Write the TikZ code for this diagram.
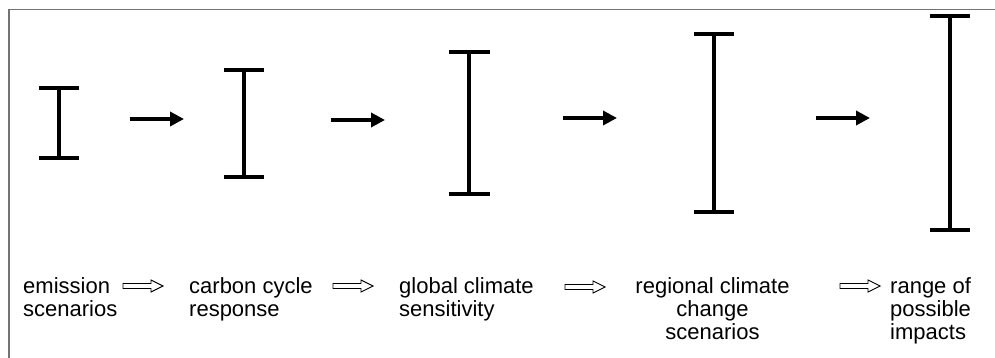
\documentclass[tikz,border=0pt]{standalone}
\usepackage{fontspec}
\setmainfont{Liberation Sans}
\usetikzlibrary{arrows.meta}
\begin{document}
\begin{tikzpicture}[x=1pt,y=-1pt,
  bar/.style={line width=3.3pt},
  flowarrow/.style={line width=3.6pt,-{Triangle[length=14pt,width=14pt]}},
  label/.style={inner sep=0pt,font=\fontsize{22}{23}\selectfont},
  harrow/.pic={\draw[line width=0.9pt,fill=white] (0,-2.5) -- (28,-2.5) -- (28,-6) -- (40,0) -- (28,6) -- (28,2.5) -- (0,2.5) -- cycle;}]
\useasboundingbox (0,0) rectangle (995,358);
\draw[line width=1.3pt,color=black!55] (9,360) -- (9,9.3) -- (997,9.3);
% error bars
\foreach \n/\x/\t/\b/\w in {1/59/88/158/20, 2/244/70/177/20, 3/469/52/194/20.5, 4/714/34/212/20, 5/950/16/230/20}{
  \coordinate (t\n) at (\x,\t);
  \coordinate (b\n) at (\x,\b);
  \draw[bar] (t\n) -- (b\n);
  \draw[bar] ([xshift=-\w pt]t\n) -- ([xshift=\w pt]t\n);
  \draw[bar] ([xshift=-\w pt]b\n) -- ([xshift=\w pt]b\n);
}
% black arrows
\coordinate (a1s) at (130,119); \coordinate (a1e) at (184,119);
\coordinate (a2s) at (331,120); \coordinate (a2e) at (385,120);
\coordinate (a3s) at (563,118); \coordinate (a3e) at (617,118);
\coordinate (a4s) at (816,118); \coordinate (a4e) at (870,118);
\draw[flowarrow] (a1s) -- (a1e);
\draw[flowarrow] (a2s) -- (a2e);
\draw[flowarrow] (a3s) -- (a3e);
\draw[flowarrow] (a4s) -- (a4e);
% labels
\node[label,anchor=north west,align=left] (l1) at (23,277) {emission\\scenarios};
\node[label,anchor=north west,align=left] (l2) at (189,277) {carbon cycle\\response};
\node[label,anchor=north west,align=left] (l3) at (399,277) {global climate\\sensitivity};
\node[label,anchor=north,align=center] (l4) at (712.5,277) {regional climate\\change\\scenarios};
\node[label,anchor=north west,align=left] (l5) at (890,277) {range of\\possible\\impacts};
% hollow arrows
\pic at (123,286) {harrow};
\pic at (333,286) {harrow};
\pic at (565,287) {harrow};
\pic at (840,286) {harrow};
\end{tikzpicture}
\end{document}
